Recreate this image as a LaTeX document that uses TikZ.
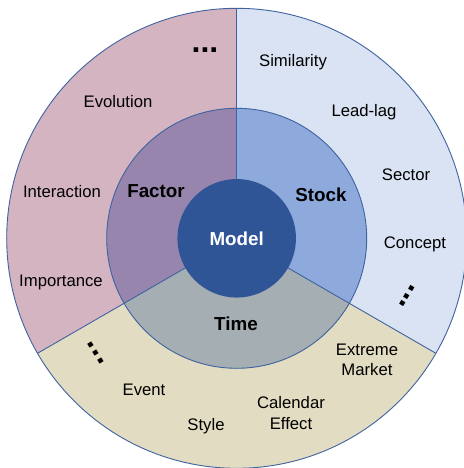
\documentclass[tikz,border=0pt]{standalone}
\usepackage{fontspec}
\setmainfont{Liberation Sans}
\usepackage{xcolor}
\definecolor{factorout}{HTML}{D4B4C1}
\definecolor{factorin}{HTML}{9785AD}
\definecolor{stockout}{HTML}{DAE3F3}
\definecolor{stockin}{HTML}{8EA9DB}
\definecolor{timeout}{HTML}{E2DCC2}
\definecolor{timein}{HTML}{A5AEB2}
\definecolor{modelblue}{HTML}{2F5597}
\definecolor{ringline}{HTML}{3F62A0}

\begin{document}
\begin{tikzpicture}[x=1pt, y=1pt,
    ring/.style={draw=ringline, line width=0.9pt},
    lbl/.style={font=\fontsize{16.7}{20.5}\selectfont, align=center, inner sep=0pt},
    head/.style={font=\fontsize{18.8}{22}\selectfont\bfseries, inner sep=0pt},
    more/.style={font=\fontsize{32}{32}\selectfont\bfseries, inner sep=0pt}]
        \useasboundingbox (-236.7,-229.7) rectangle (226.3,238.3);

        % outer and inner sectors
        \fill[factorout] (0,0) -- (90:230pt) arc (90:210:230pt) -- cycle;
        \fill[stockout] (0,0) -- (-30:230pt) arc (-30:90:230pt) -- cycle;
        \fill[timeout] (0,0) -- (210:230pt) arc (210:330:230pt) -- cycle;
        \fill[factorin] (0,0) -- (90:130pt) arc (90:210:130pt) -- cycle;
        \fill[stockin] (0,0) -- (-30:130pt) arc (-30:90:130pt) -- cycle;
        \fill[timein] (0,0) -- (210:130pt) arc (210:330:130pt) -- cycle;

        \draw[ring] (0,0) circle (230pt);
        \draw[ring] (0,0) circle (130pt);
        \foreach \a in {90,210,330}
            \draw[ring] (\a:59pt) -- (\a:230pt);

        \node[circle, fill=modelblue, minimum size=118.5pt, inner sep=0pt, text=white,
              font=\fontsize{18.8}{22}\selectfont\bfseries] (m) at (0,0) {Model};

        \node[head] (f) at (-80.7,47.3) {Factor};
        \node[head] (s) at (84.3,43.3) {Stock};
        \node[head] (t) at (-0.7,-85.7) {Time};

        \node[lbl] (s1) at (56.3,176.3) {Similarity};
        \node[lbl] (s2) at (127.3,126.3) {Lead-lag};
        \node[lbl] (s3) at (169.3,63.3) {Sector};
        \node[lbl] (s4) at (178.3,-5.7) {Concept};
        \node[more, rotate=59] (s5) at (170.3,-57.7) {...};

        \node[lbl] (t1) at (130.3,-121.7) {Extreme\\Market};
        \node[lbl] (t2) at (54.3,-174.7) {Calendar\\Effect};
        \node[lbl] (t3) at (-30.7,-187.7) {Style};
        \node[lbl] (t4) at (-92.7,-151.7) {Event};
        \node[more, rotate=-58] (t5) at (-140.7,-114.7) {...};

        \node[lbl] (f1) at (-175.7,-43.7) {Importance};
        \node[lbl] (f2) at (-174.7,46.3) {Interaction};
        \node[lbl] (f3) at (-118.7,136.3) {Evolution};
        \node[more] (f4) at (-31.7,188.3) {...};
    \end{tikzpicture}
\end{document}
